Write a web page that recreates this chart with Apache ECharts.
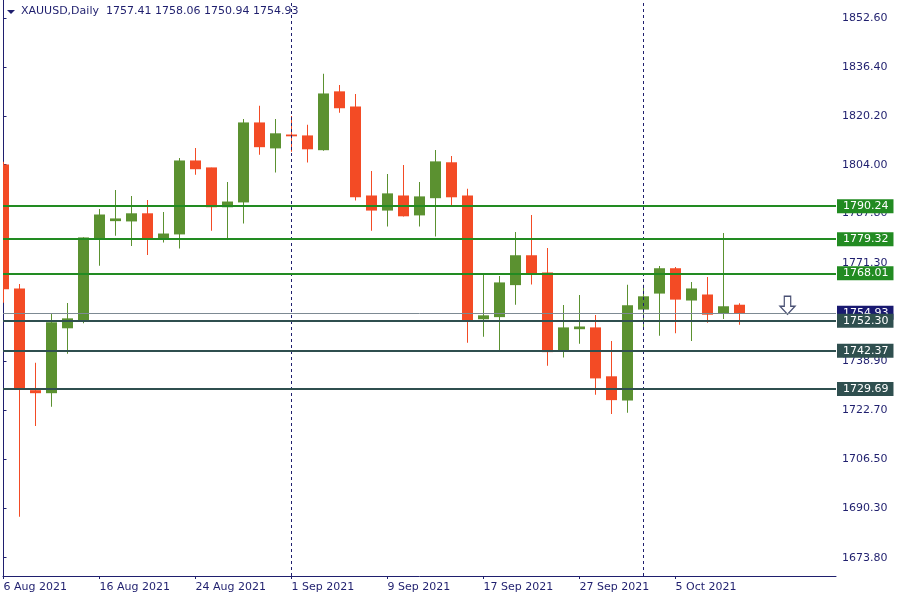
<!DOCTYPE html>
<html>
<head>
<meta charset="utf-8">
<script src="https://cdn.jsdelivr.net/npm/echarts@6/dist/echarts.min.js"></script>
<style>
html,body{margin:0;padding:0;background:#fff;}
#chart{width:900px;height:600px;}
</style>
</head>
<body>
<div id="chart"></div>
<script>
const symbolName = 'XAUUSD';
const timeframe = 'Daily';
const dates = [
  '6 Aug 2021','9 Aug 2021','10 Aug 2021','11 Aug 2021','12 Aug 2021','13 Aug 2021',
  '16 Aug 2021','17 Aug 2021','18 Aug 2021','19 Aug 2021','20 Aug 2021',
  '23 Aug 2021','24 Aug 2021','25 Aug 2021','26 Aug 2021','27 Aug 2021',
  '30 Aug 2021','31 Aug 2021','1 Sep 2021','2 Sep 2021','3 Sep 2021',
  '6 Sep 2021','7 Sep 2021','8 Sep 2021','9 Sep 2021','10 Sep 2021',
  '13 Sep 2021','14 Sep 2021','15 Sep 2021','16 Sep 2021','17 Sep 2021',
  '20 Sep 2021','21 Sep 2021','22 Sep 2021','23 Sep 2021','24 Sep 2021',
  '27 Sep 2021','28 Sep 2021','29 Sep 2021','30 Sep 2021','1 Oct 2021',
  '4 Oct 2021','5 Oct 2021','6 Oct 2021','7 Oct 2021','8 Oct 2021','11 Oct 2021'
];
const openVals = [
  1803.9,1762.8,1729.1,1728.5,1750.0,1752.2,
  1779.3,1785.5,1785.4,1787.7,1779.7,
  1781.1,1805.2,1802.9,1790.1,1791.7,
  1817.8,1809.6,1813.8,1813.5,1809.0,
  1828.1,1823.1,1793.6,1789.0,1793.6,
  1787.4,1793.1,1804.6,1793.6,1753.0,
  1753.7,1764.3,1773.8,1768.1,1742.4,
  1749.7,1749.9,1733.7,1726.1,1756.2,
  1761.5,1769.5,1759.2,1760.8,1754.9,1757.41
];
const highVals = [
  1805.0,1764.5,1738.4,1754.8,1758.2,1780.0,
  1789.3,1795.6,1793.6,1792.3,1788.3,
  1806.2,1809.5,1803.0,1798.3,1819.1,
  1823.5,1819.1,1820.1,1817.2,1834.1,
  1830.4,1827.4,1801.9,1800.9,1803.9,
  1798.3,1808.9,1806.9,1796.0,1767.5,
  1767.1,1781.7,1787.3,1776.4,1757.5,
  1760.8,1754.2,1745.6,1764.2,1764.2,
  1770.4,1770.1,1765.1,1766.8,1781.4,1758.06
];
const lowVals = [
  1758.3,1687.4,1717.4,1723.8,1741.4,1751.5,
  1770.5,1780.5,1777.1,1774.1,1778.2,
  1776.2,1800.7,1782.1,1779.6,1784.5,
  1807.3,1801.4,1808.3,1804.7,1808.6,
  1821.2,1792.1,1782.1,1783.5,1786.8,
  1783.5,1780.2,1790.4,1745.0,1747.0,
  1742.1,1757.6,1764.3,1737.4,1740.1,
  1744.7,1727.8,1721.4,1721.8,1749.2,
  1747.3,1748.2,1745.6,1751.6,1752.9,1750.94
];
const closeVals = [
  1762.9,1729.6,1728.5,1751.6,1752.9,1779.7,
  1787.3,1786.0,1787.7,1779.7,1781.0,
  1805.2,1802.7,1790.1,1791.6,1817.8,
  1810.0,1814.2,1813.6,1809.3,1827.4,
  1822.9,1793.4,1789.0,1794.3,1787.1,
  1793.3,1804.9,1793.4,1752.3,1753.9,
  1764.8,1773.8,1768.0,1742.1,1749.9,
  1750.2,1733.4,1726.2,1757.2,1760.2,
  1769.5,1759.5,1762.8,1754.5,1756.9,1754.93
];
const dateTickLabels = ['6 Aug 2021','16 Aug 2021','24 Aug 2021','1 Sep 2021','9 Sep 2021','17 Sep 2021','27 Sep 2021','5 Oct 2021'];
const separatorDates = ['1 Sep 2021','1 Oct 2021'];
const priceTickLabels = [1673.80,1690.30,1706.50,1722.70,1738.90,1771.30,1787.80,1804.00,1820.20,1836.40,1852.60];
const resistanceLevels = [1790.24,1779.32,1768.01];
const supportLevels = [1752.30,1742.37,1729.69];
const sellSignal = { barIndex: 49, price: 1757.41 };

const NAVY = '#1f1f6e';
const BULL = '#5b9130';
const BEAR = '#f34b25';
const GREEN_LINE = '#228b22';
const DARK_LINE = '#2f4f4f';
const FONT = 'DejaVu Sans';

const candleData = dates.map((d, i) => [i, openVals[i], closeVals[i], lowVals[i], highVals[i]]);
const lastIdx = dates.length - 1;
const bidPrice = closeVals[lastIdx];
const header = symbolName + ',' + timeframe + '  ' +
  [openVals[lastIdx], highVals[lastIdx], lowVals[lastIdx], closeVals[lastIdx]].map(v => v.toFixed(2)).join(' ');

const tickIdx = dateTickLabels.map(l => dates.indexOf(l));
const sepIdx = separatorDates.map(l => dates.indexOf(l));

function levelLine(v, color) {
  return {
    yAxis: v,
    lineStyle: { color: color, width: 2, type: 'solid' },
    label: {
      show: true, position: 'end', distance: 1,
      formatter: () => v.toFixed(2),
      color: '#ffffff', backgroundColor: color,
      fontFamily: FONT, fontSize: 11, lineHeight: 12,
      padding: [1, 5, 1, 6]
    }
  };
}

const markData = [];
sepIdx.forEach(i => markData.push({
  xAxis: i,
  lineStyle: { color: NAVY, width: 1, type: [3, 3] },
  label: { show: false }
}));
markData.push({
  yAxis: bidPrice,
  lineStyle: { color: '#7d8a93', width: 1, type: 'solid' },
  label: {
    show: true, position: 'end', distance: 1,
    formatter: () => bidPrice.toFixed(2),
    color: '#ffffff', backgroundColor: '#191970',
    fontFamily: FONT, fontSize: 11, lineHeight: 12,
    padding: [1, 5, 1, 6]
  }
});
resistanceLevels.forEach(v => markData.push(levelLine(v, GREEN_LINE)));
supportLevels.forEach(v => markData.push(levelLine(v, DARK_LINE)));

function renderCandle(params, api) {
  const idx = api.value(0);
  const o = api.value(1), c = api.value(2), l = api.value(3), h = api.value(4);
  const pO = api.coord([idx, o]);
  const pC = api.coord([idx, c]);
  const pL = api.coord([idx, l]);
  const pH = api.coord([idx, h]);
  const x = Math.round(pO[0] - 0.5) + 0.5;
  const color = c >= o ? BULL : BEAR;
  const halfW = 5.5;
  const top = Math.min(pO[1], pC[1]) - 0.6;
  const bot = Math.max(pO[1], pC[1]) + 0.6;
  return {
    type: 'group',
    children: [
      { type: 'rect', shape: { x: x - 0.5, y: pH[1], width: 1, height: Math.max(pL[1] - pH[1], 1) },
        style: { fill: color } },
      { type: 'rect', shape: { x: x - halfW, y: top, width: halfW * 2, height: Math.max(bot - top, 1.5) },
        style: { fill: color } }
    ]
  };
}

const chart = echarts.init(document.getElementById('chart'), null, { renderer: 'canvas' });
chart.setOption({
  animation: false,
  backgroundColor: '#ffffff',
  grid: {
    left: 3, right: 64, top: 0, bottom: 24,
    show: false
  },
  xAxis: {
    type: 'value',
    min: -0.03125, max: 52.03125,
    axisLine: { show: true, lineStyle: { color: NAVY, width: 1 } },
    splitLine: { show: false },
    axisTick: { show: true, customValues: tickIdx, length: 3, lineStyle: { color: NAVY } },
    axisLabel: {
      show: true, customValues: tickIdx, align: 'left', margin: 6,
      color: NAVY, fontFamily: FONT, fontSize: 11,
      formatter: v => dates[Math.round(v)] || ''
    }
  },
  yAxis: [
    {
      type: 'value', position: 'right',
      min: 1667.74, max: 1858.56,
      scale: true,
      axisLine: { show: true, lineStyle: { color: NAVY, width: 1 } },
      splitLine: { show: false },
      axisTick: { show: true, customValues: priceTickLabels, length: 3, lineStyle: { color: NAVY } },
      axisLabel: {
        show: true, customValues: priceTickLabels, margin: 6,
        color: NAVY, fontFamily: FONT, fontSize: 11,
        formatter: v => v.toFixed(2)
      }
    },
    {
      type: 'value', position: 'left',
      min: 1667.74, max: 1858.56,
      scale: true,
      axisLine: { show: true, lineStyle: { color: NAVY, width: 1 } },
      splitLine: { show: false },
      axisTick: { show: false },
      axisLabel: { show: false }
    }
  ],
  graphic: [
    { type: 'polygon', shape: { points: [[7, 10], [15, 10], [11, 14]] }, style: { fill: NAVY }, z: 100 },
    { type: 'text', left: 21, top: 6, style: { text: header, font: '11px "DejaVu Sans"', fill: NAVY }, z: 100 }
  ],
  series: [
    {
      type: 'line', data: [], z: 1, silent: true,
      markLine: {
        silent: true, symbol: ['none', 'none'], animation: false,
        data: markData
      }
    },
    {
      type: 'custom',
      name: symbolName,
      z: 3,
      silent: true,
      clip: true,
      data: candleData,
      encode: { x: 0, y: [1, 2, 3, 4] },
      renderItem: renderCandle
    },
    {
      type: 'scatter',
      z: 4, silent: true,
      data: [[sellSignal.barIndex, sellSignal.price]],
      symbol: 'path://M5,0 L11,0 L11,10 L15,10 L8,18 L1,10 L5,10 Z',
      symbolSize: [15, 18],
      itemStyle: { color: '#ffffff', borderColor: '#1c2450', borderWidth: 1.3 }
    }
  ]
});
</script>
</body>
</html>
